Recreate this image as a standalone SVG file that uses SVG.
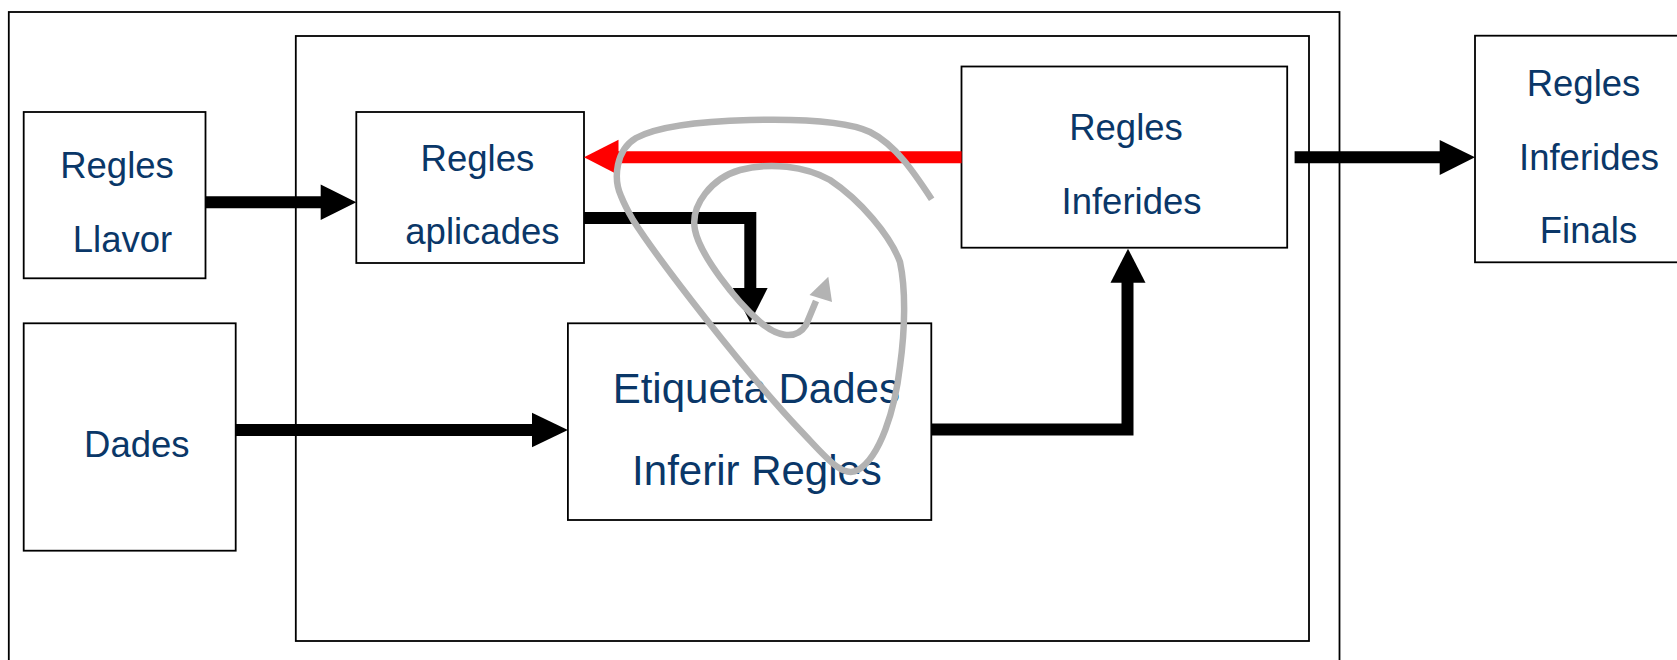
<svg xmlns="http://www.w3.org/2000/svg" width="1677" height="660" viewBox="0 0 1677 660">
  <style>
    .frame { fill: none; stroke: #000; stroke-width: 1.8; }
    .box { fill: #fff; stroke: #000; stroke-width: 1.8; }
    .lbl { font-family: "Liberation Sans", Arial, sans-serif; font-size: 36.5px; fill: #0a3768; text-anchor: middle; }
    .lbl-big { font-size: 42px; }
    .shaft { fill: none; stroke: #000; stroke-width: 12; stroke-linejoin: miter; }
    .shaft-red { fill: none; stroke: #ff0000; stroke-width: 12; }
    .head { fill: #000; }
    .head-red { fill: #ff0000; }
    .loop { fill: none; stroke: #b3b3b3; stroke-width: 6.5; stroke-linecap: butt; stroke-linejoin: round; }
  </style>

  <rect width="1677" height="660" fill="#fff"/>

  <!-- enclosing frames -->
  <g id="outer-frame">
    <rect class="frame" x="8.8" y="12" width="1330.7" height="660"/>
  </g>
  <g id="inner-frame">
    <rect class="frame" x="295.8" y="36" width="1013.2" height="605"/>
  </g>

  <!-- nodes -->
  <g id="regles-llavor">
    <rect class="box" x="23.7" y="112" width="181.8" height="166.3"/>
    <text class="lbl" x="117" y="178.3">Regles</text>
    <text class="lbl" x="122.5" y="252.3">Llavor</text>
  </g>

  <g id="dades">
    <rect class="box" x="23.7" y="323.3" width="212" height="227.4"/>
    <text class="lbl" x="136.8" y="456.7">Dades</text>
  </g>

  <g id="regles-aplicades">
    <rect class="box" x="356.3" y="112" width="227.7" height="151"/>
    <text class="lbl" x="477.4" y="171">Regles</text>
    <text class="lbl" x="482.4" y="244.3">aplicades</text>
  </g>

  <g id="etiqueta-inferir">
    <rect class="box" x="567.9" y="323.3" width="363.4" height="196.7"/>
    <text class="lbl lbl-big" x="756.3" y="403.3">Etiqueta Dades</text>
    <text class="lbl lbl-big" x="757" y="485">Inferir Regles</text>
  </g>

  <g id="regles-inferides">
    <rect class="box" x="961.5" y="66.5" width="325.7" height="181.2"/>
    <text class="lbl" x="1126" y="140">Regles</text>
    <text class="lbl" x="1131.5" y="213.5">Inferides</text>
  </g>

  <g id="regles-finals">
    <rect class="box" x="1475" y="35.7" width="205" height="226.6"/>
    <text class="lbl" x="1583.5" y="95.5">Regles</text>
    <text class="lbl" x="1589" y="169.5">Inferides</text>
    <text class="lbl" x="1588.5" y="242.5">Finals</text>
  </g>

  <!-- connectors -->
  <g id="connectors">
    <!-- Regles Llavor -> Regles aplicades -->
    <line class="shaft" x1="205.5" y1="202.3" x2="322" y2="202.3"/>
    <polygon class="head" points="320.7,184.5 356.3,202.3 320.7,220"/>

    <!-- Regles aplicades -> Etiqueta Dades -->
    <path class="shaft" d="M584 218 H750.3 V290"/>
    <polygon class="head" points="732.8,288 767.6,288 750.2,322.6"/>

    <!-- Dades -> Etiqueta Dades -->
    <line class="shaft" x1="235.7" y1="430" x2="534" y2="430"/>
    <polygon class="head" points="532,412.7 567.9,430 532,447.3"/>

    <!-- Etiqueta Dades -> Regles Inferides -->
    <path class="shaft" d="M931.3 429.5 H1127.5 V281"/>
    <polygon class="head" points="1110.5,282.7 1145.5,282.7 1128,248.7"/>

    <!-- Regles Inferides -> Regles aplicades (feedback) -->
    <line class="shaft-red" x1="961.6" y1="157.3" x2="616" y2="157.3"/>
    <polygon class="head-red" points="618.5,139.8 584,157.3 618.5,175"/>

    <!-- Regles Inferides -> Regles Inferides Finals -->
    <line class="shaft" x1="1294.6" y1="157.3" x2="1442" y2="157.3"/>
    <polygon class="head" points="1439.7,140 1475,157.3 1439.7,175"/>
  </g>

  <!-- iteration spiral -->
  <g id="iteration-loop">
    <path class="loop" d="M931.7 199.3
      C915 174, 896 145, 870 132
      C845 120, 790 119, 750 120
      C710 121, 660 125, 636 138
      C616 150, 613 178, 621 196
      C625 206, 629 213, 633 220
      C660 262, 745 372, 800 430
      C825 456, 842 479, 858 470
      C880 457, 895 410, 900 366
      C905 330, 906 290, 900 262
      C890 235, 860 200, 830 180
      C805 166, 770 162, 740 170
      C712 178, 690 205, 695 230
      C700 255, 735 300, 760 322
      C775 335, 795 342, 806 325
      L816 301"/>
    <polygon fill="#b3b3b3" points="828.3,276.7 809.5,295 832,302"/>
  </g>
</svg>
